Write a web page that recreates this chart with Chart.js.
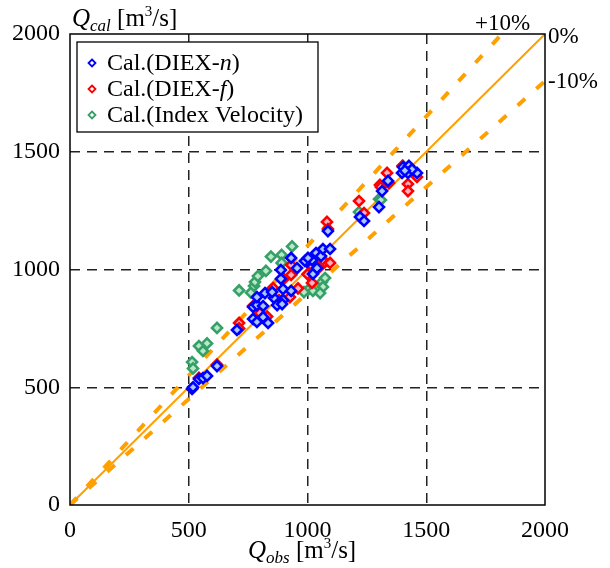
<!DOCTYPE html>
<html>
<head>
<meta charset="utf-8">
<script src="https://cdn.jsdelivr.net/npm/chart.js@4"></script>
<style>
  body { margin: 0; background: #fff; }
  #wrap { width: 610px; height: 568px; }
</style>
</head>
<body>
<div id="wrap"><canvas id="chart" width="610" height="568"></canvas></div>
<script>
// tick values on both axes
const tickValues = [0, 500, 1000, 1500, 2000];

// Cal.(DIEX-n)
const diexNX = [514, 518, 543, 560, 577, 619, 703, 771, 787, 813, 834, 771, 787, 813, 787, 821, 859, 872, 851, 897, 931, 897, 893, 888, 888, 931, 998, 1019, 1036, 1057, 1065, 1095, 1023, 1040, 956, 989, 1002, 1086, 1221, 1238, 1301, 1314, 1339, 1398, 1402, 1427, 1423, 1461, 1440, 1410];
const diexNY = [493, 500, 535, 539, 548, 590, 743, 790, 777, 798, 773, 841, 849, 845, 883, 900, 879, 849, 904, 917, 909, 870, 853, 960, 998, 1049, 1032, 1040, 1070, 1057, 1087, 1087, 981, 1006, 1006, 1036, 1049, 1163, 1223, 1206, 1265, 1333, 1376, 1410, 1435, 1440, 1410, 1410, 1425, 1420];

// Cal.(DIEX-f)
const diexFX = [543, 619, 712, 712, 771, 846, 855, 931, 931, 926, 1019, 1019, 1074, 1095, 1060, 1082, 1086, 1217, 1238, 1305, 1343, 1335, 1309, 1461, 1423, 1423, 1400, 900, 800, 960, 880, 1000, 830, 1050];
const diexFY = [540, 596, 773, 750, 845, 913, 921, 1019, 977, 883, 1015, 943, 1032, 1028, 1040, 1202, 1172, 1291, 1240, 1359, 1367, 1410, 1350, 1393, 1363, 1333, 1440, 960, 815, 920, 870, 980, 800, 1010];

// Cal.(Index Velocity)
const ivX = [514, 518, 543, 560, 577, 619, 712, 762, 775, 779, 791, 825, 846, 891, 891, 935, 1002, 1023, 1061, 1065, 1074, 985, 1053, 1217, 1301, 1309, 1402];
const ivY = [607, 580, 675, 654, 686, 752, 911, 902, 930, 947, 972, 994, 1055, 1062, 1028, 1098, 913, 909, 947, 926, 964, 904, 900, 1244, 1299, 1295, 1440];

// reference lines: 0%, +10%, -10%
const refX = [0, 2000];
const ref0 = [0, 2000];
const refPlus = [0, 2200];
const refMinus = [0, 1800];

const SERIF = "'Liberation Serif', 'Times New Roman', Times, serif";
const ORANGE = "#ffa000";
const BLUE = "#0000ff", RED = "#ff0000", GREEN = "#35a068";

const pts = (xs, ys) => xs.map((x, i) => ({ x, y: ys[i] }));

function markerSet(label, xs, ys, color, fill) {
  return {
    type: "scatter",
    label,
    data: pts(xs, ys),
    pointStyle: "rectRot",
    pointRadius: 5,
    pointBorderWidth: 2.6,
    borderColor: color,
    backgroundColor: fill,
    order: 1
  };
}

function refLine(ys, dash, width) {
  return {
    type: "line",
    data: pts(refX, ys),
    borderColor: ORANGE,
    borderWidth: width,
    borderDash: dash,
    borderCapStyle: "butt",
    pointRadius: 0,
    fill: false,
    order: 5
  };
}

// draws the frame, axis titles, percent labels and legend
const decorations = {
  id: "decorations",
  afterDraw(chart) {
    const { ctx, chartArea: a } = chart;
    ctx.save();
    ctx.strokeStyle = "#000";
    ctx.lineWidth = 1.5;
    ctx.strokeRect(a.left, a.top, a.right - a.left, a.bottom - a.top);

    ctx.fillStyle = "#000";
    ctx.textBaseline = "alphabetic";

    // title with italic Q, italic subscript and superscript 3
    function title(x, y, sub) {
      ctx.font = "italic 25px " + SERIF;
      ctx.fillText("Q", x, y);
      x += ctx.measureText("Q").width;
      ctx.font = "italic 17px " + SERIF;
      ctx.fillText(sub, x, y + 5);
      x += ctx.measureText(sub).width;
      ctx.font = "25px " + SERIF;
      ctx.fillText(" [m", x, y);
      x += ctx.measureText(" [m").width;
      ctx.font = "15px " + SERIF;
      ctx.fillText("3", x, y - 10);
      x += ctx.measureText("3").width;
      ctx.font = "25px " + SERIF;
      ctx.fillText("/s]", x, y);
    }
    title(72, 26, "cal");
    title(248, 558, "obs");

    ctx.font = "23px " + SERIF;
    ctx.fillText("+10%", 475, 30);
    ctx.fillText("0%", 548, 43);
    ctx.fillText("-10%", 548, 88);

    // legend box
    ctx.fillStyle = "#fff";
    ctx.fillRect(77, 42, 241, 90);
    ctx.strokeStyle = "#000";
    ctx.lineWidth = 1.3;
    ctx.strokeRect(77, 42, 241, 90);

    const entries = [
      { color: BLUE, parts: [["Cal.(DIEX-", ""], ["n", "italic "], [")", ""]] },
      { color: RED, parts: [["Cal.(DIEX-", ""], ["f", "italic "], [")", ""]] },
      { color: GREEN, parts: [["Cal.(Index Velocity)", ""]] }
    ];
    entries.forEach((e, i) => {
      const y = 63 + i * 26;
      ctx.beginPath();
      ctx.moveTo(92, y - 3.5);
      ctx.lineTo(95.5, y);
      ctx.lineTo(92, y + 3.5);
      ctx.lineTo(88.5, y);
      ctx.closePath();
      ctx.fillStyle = "#fff";
      ctx.fill();
      ctx.strokeStyle = e.color;
      ctx.lineWidth = 1.8;
      ctx.stroke();
      ctx.fillStyle = "#000";
      ctx.textBaseline = "middle";
      let x = 107;
      e.parts.forEach(([t, style]) => {
        ctx.font = style + "24px " + SERIF;
        ctx.fillText(t, x, y + 1);
        x += ctx.measureText(t).width;
      });
    });
    ctx.restore();
  }
};

const gridColor = c => (c.tick && (c.tick.value === 0 || c.tick.value === 2000)) ? "rgba(0,0,0,0)" : "#222";

new Chart(document.getElementById("chart").getContext("2d"), {
  data: {
    datasets: [
      markerSet("Cal.(DIEX-n)", diexNX, diexNY, BLUE, "#a8c8ff"),
      markerSet("Cal.(DIEX-f)", diexFX, diexFY, RED, "#ffb0c0"),
      markerSet("Cal.(Index Velocity)", ivX, ivY, GREEN, "#b8e8c8"),
      refLine(ref0, [], 2),
      refLine(refPlus, [10, 15], 4),
      refLine(refMinus, [10, 15], 4)
    ]
  },
  options: {
    responsive: false,
    animation: false,
    layout: { padding: { top: 34, right: 65, left: 0, bottom: 0 } },
    plugins: { legend: { display: false }, tooltip: { enabled: false } },
    scales: {
      x: {
        type: "linear",
        min: 0, max: 2000,
        afterBuildTicks: s => { s.ticks = tickValues.map(v => ({ value: v })); },
        afterFit: s => { s.height = 63; },
        ticks: { color: "#000", padding: 11, font: { family: SERIF, size: 24 }, callback: v => String(v) },
        grid: { color: gridColor, lineWidth: 1.5, drawTicks: false },
        border: { display: false, dash: [10, 7] }
      },
      y: {
        type: "linear",
        min: 0, max: 2000,
        afterBuildTicks: s => { s.ticks = tickValues.map(v => ({ value: v })); },
        afterFit: s => { s.width = 70; },
        ticks: { color: "#000", padding: 10, font: { family: SERIF, size: 24 }, callback: v => String(v) },
        grid: { color: gridColor, lineWidth: 1.5, drawTicks: false },
        border: { display: false, dash: [10, 7] }
      }
    }
  },
  plugins: [decorations]
});
</script>
</body>
</html>
